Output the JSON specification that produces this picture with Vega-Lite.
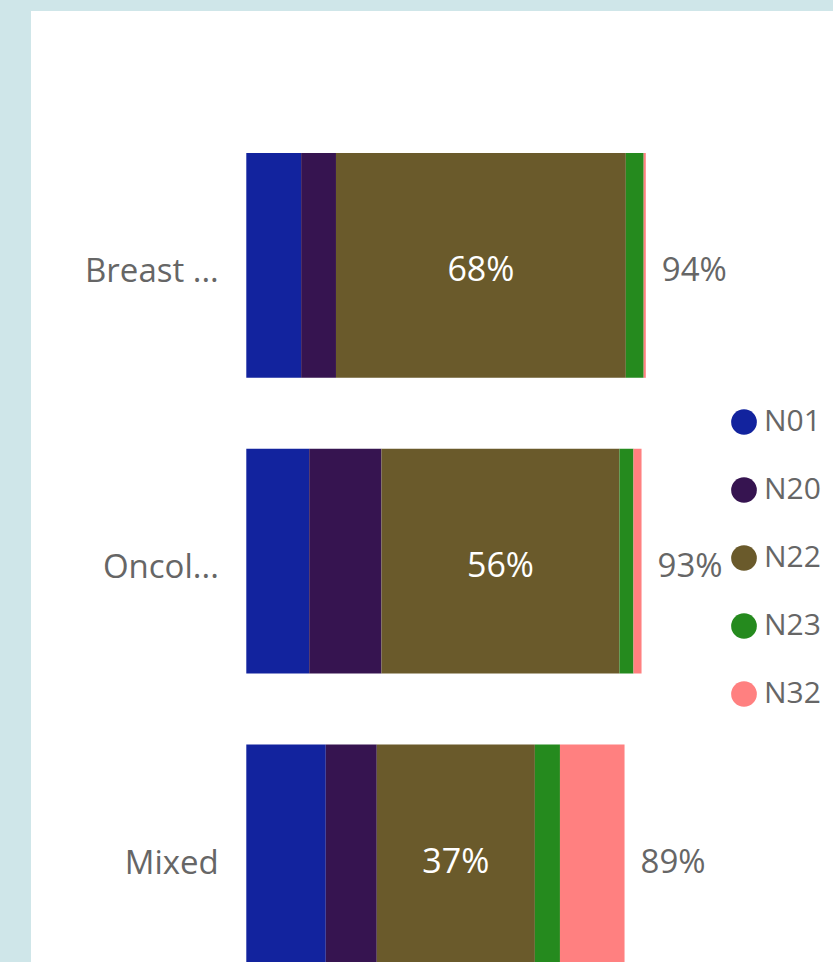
{
  "$schema": "https://vega.github.io/schema/vega-lite/v6.json",
  "width": 802,
  "height": 951,
  "autosize": {"type": "none"},
  "padding": {"left": 31, "top": 11, "right": 0, "bottom": 0},
  "background": "#CFE6E9",
  "config": {"view": {"fill": "white", "stroke": null}, "font": "Open Sans"},
  "data": {
    "values": [
      {"cat": "Breast ...", "s": "N01", "v": 12.9},
      {"cat": "Breast ...", "s": "N20", "v": 8.2},
      {"cat": "Breast ...", "s": "N22", "v": 68.2},
      {"cat": "Breast ...", "s": "N23", "v": 4.2},
      {"cat": "Breast ...", "s": "N32", "v": 0.5},
      {"cat": "Oncol...", "s": "N01", "v": 14.8},
      {"cat": "Oncol...", "s": "N20", "v": 17.0},
      {"cat": "Oncol...", "s": "N22", "v": 56.0},
      {"cat": "Oncol...", "s": "N23", "v": 3.3},
      {"cat": "Oncol...", "s": "N32", "v": 1.9},
      {"cat": "Mixed", "s": "N01", "v": 18.7},
      {"cat": "Mixed", "s": "N20", "v": 12.0},
      {"cat": "Mixed", "s": "N22", "v": 37.2},
      {"cat": "Mixed", "s": "N23", "v": 5.9},
      {"cat": "Mixed", "s": "N32", "v": 15.2}
    ]
  },
  "encoding": {
    "y": {
      "field": "cat",
      "type": "nominal",
      "sort": ["Breast ...", "Oncol...", "Mixed"],
      "scale": {"range": [106.5, 993.9], "paddingInner": 0.24, "paddingOuter": 0.12},
      "axis": {
        "title": null,
        "domain": false,
        "ticks": false,
        "labelPadding": 28,
        "labelOffset": 7,
        "offset": -215.3,
        "labelFontSize": 33,
        "labelColor": "#666666",
        "labelFont": "Open Sans"
      }
    }
  },
  "layer": [
    {
      "mark": {"type": "bar", "clip": true},
      "encoding": {
        "x": {
          "field": "v",
          "type": "quantitative",
          "stack": "zero",
          "scale": {"domain": [0, 100], "range": [215.3, 640.3]},
          "axis": null
        },
        "color": {
          "field": "s",
          "type": "nominal",
          "scale": {
            "domain": ["N01", "N20", "N22", "N23", "N32"],
            "range": ["#12239E", "#361450", "#6A5A2B", "#258A1E", "#FF8080"]
          },
          "legend": {
            "orient": "none",
            "legendX": 698,
            "legendY": 396,
            "title": null,
            "symbolType": "circle",
            "symbolSize": 660,
            "symbolStrokeWidth": 0,
            "labelFontSize": 30,
            "labelFont": "Open Sans",
            "labelColor": "#666666",
            "rowPadding": 38,
            "labelOffset": 5,
            "padding": 0
          }
        }
      }
    },
    {
      "transform": [
        {"window": [{"op": "sum", "field": "v", "as": "cum"}], "groupby": ["cat"], "sort": [{"field": "s", "order": "ascending"}]},
        {"calculate": "datum.cum - datum.v / 2", "as": "mid"},
        {"filter": "datum.s == 'N22'"},
        {"calculate": "format(datum.v, '.0f') + '%'", "as": "lab"}
      ],
      "mark": {"type": "text", "color": "white", "fontSize": 34, "dy": 6, "font": "Open Sans", "clip": true},
      "encoding": {
        "x": {"field": "mid", "type": "quantitative", "axis": null},
        "text": {"field": "lab"}
      }
    },
    {
      "transform": [
        {"aggregate": [{"op": "sum", "field": "v", "as": "tot"}], "groupby": ["cat"]},
        {"calculate": "format(datum.tot, '.0f') + '%'", "as": "lab"}
      ],
      "mark": {"type": "text", "align": "left", "dx": 16, "dy": 6, "fontSize": 33, "font": "Open Sans", "color": "#666666", "clip": true},
      "encoding": {
        "x": {"field": "tot", "type": "quantitative", "axis": null},
        "text": {"field": "lab"}
      }
    }
  ]
}
